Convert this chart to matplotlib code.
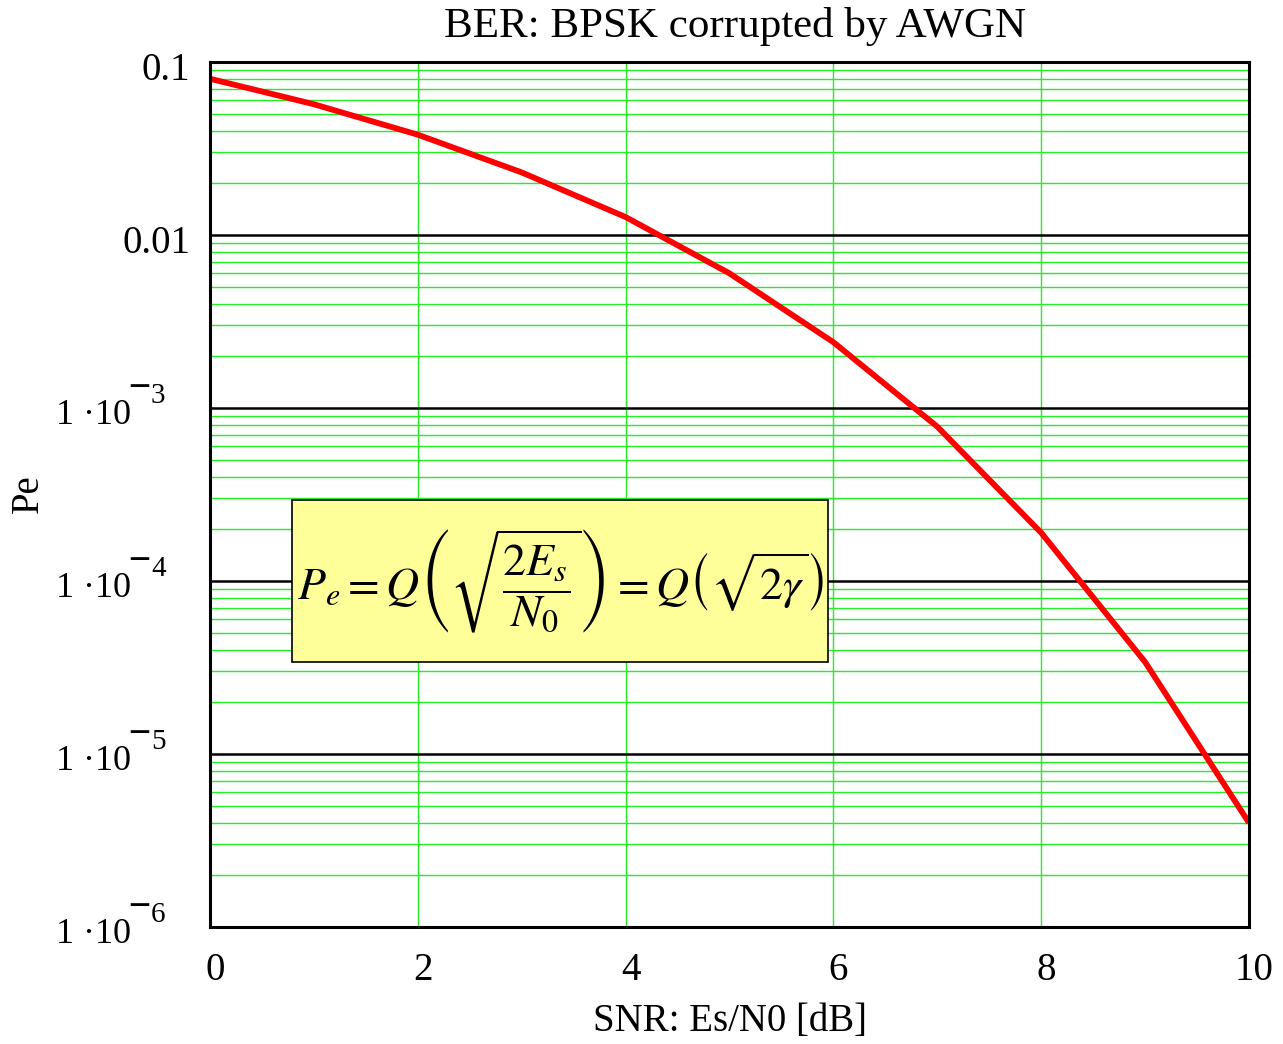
import numpy as np
import matplotlib
matplotlib.use("Agg")
import matplotlib.pyplot as plt
from matplotlib.path import Path
from matplotlib.ticker import LogLocator, NullFormatter
from matplotlib.transforms import blended_transform_factory, offset_copy, ScaledTranslation

plt.rcParams['font.family'] = ['Liberation Serif', 'DejaVu Serif']
plt.rcParams['mathtext.fontset'] = 'stix'

# Data
snr_db = [0, 1, 2, 3, 4, 5, 6, 7, 8, 9, 10]
pe = [0.080, 0.057, 0.038, 0.023, 0.0127, 0.0060, 0.0024, 0.00078, 0.00019, 3.4e-5, 4.0e-6]

x_ticks = [0, 2, 4, 6, 8, 10]
y_decades = [1e-6, 1e-5, 1e-4, 1e-3, 1e-2, 1e-1]
y_plain = {1e-1: '0.1', 1e-2: '0.01'}
y_exp = {1e-3: '3', 1e-4: '4', 1e-5: '5', 1e-6: '6'}

fig = plt.figure(figsize=(12.83, 10.44), dpi=100)
ax = fig.add_axes([0.1637, 0.1121, 0.8098, 0.8285])

ax.set_yscale('log')
ax.set_xlim(0, 10)
ax.set_ylim(1e-6, 0.1)

# grid
green = '#22ee22'
ax.yaxis.set_minor_locator(LogLocator(base=10, subs=np.arange(2, 10)))
ax.yaxis.set_minor_formatter(NullFormatter())
ax.grid(True, which='minor', axis='y', color=green, lw=1.0)
for xv in x_ticks:
    ax.axvline(xv, color=green, lw=1.0, zorder=1)
for yv in y_decades:
    ax.axhline(yv, color='black', lw=1.8, zorder=2)

ax.plot(snr_db, pe, color='#ff0000', lw=4.2, zorder=4, solid_capstyle='butt')

# axis frame
for s in ax.spines.values():
    s.set_linewidth(2.2)
    s.set_color('black')
    s.set_zorder(5)

ax.tick_params(which='both', length=0)
ax.set_xticks(x_ticks)
ax.set_xticklabels([str(v) for v in x_ticks], fontsize=28)
ax.tick_params(axis='x', pad=18)
for lab in ax.get_xticklabels():
    lab.set_transform(lab.get_transform() + ScaledTranslation(5 / 100, 0, fig.dpi_scale_trans))
ax.set_yticks(y_decades)
ax.set_yticklabels([''] * len(y_decades))

# y tick labels in "1·10^-n" style
tr = blended_transform_factory(ax.transAxes, ax.transData)
for v, lab in y_plain.items():
    ax.text(0, v, lab, transform=offset_copy(tr, fig, x=-20, y=-8, units='dots'),
            ha='right', va='center', fontsize=28, clip_on=False)
for v, ex in y_exp.items():
    ax.text(0, v, '1 \u00b710', transform=offset_copy(tr, fig, x=-79, y=-8, units='dots'),
            ha='right', va='center', fontsize=26, clip_on=False)
    ax.text(0, v, ex, transform=offset_copy(tr, fig, x=-59, y=12, units='dots'),
            ha='left', va='center', fontsize=21, clip_on=False)
    ax.text(0, v, '\u2013', transform=offset_copy(tr, fig, x=-71, y=22, units='dots'),
            ha='center', va='center', fontsize=26, fontweight='bold', clip_on=False)

ax.set_title('BER: BPSK corrupted by AWGN', fontsize=31, pad=18, x=0.505)
ax.set_xlabel('SNR: Es/N0 [dB]', fontsize=28, labelpad=10)
fig.text(28 / 1283, 1 - 494 / 1044, 'Pe', rotation=90, ha='center', va='center', fontsize=28)


def formula_box(x0, y0, width, height, mutation_size):
    # plain rectangle, wider padding on top and bottom than on the sides
    px, py = 0.1 * mutation_size, 0.58 * mutation_size
    x0, y0 = x0 - px, y0 - py
    x1, y1 = x0 + width + 2 * px, y0 + height + 2 * py
    return Path([(x0, y0), (x1, y0), (x1, y1), (x0, y1), (x0, y0)], closed=True)


ax.text(3.37, 1e-4, r'$P_e = Q\left(\sqrt{\dfrac{2E_s}{N_0}}\right) = Q\left(\sqrt{2\gamma}\right)$',
        fontsize=33, ha='center', va='center', zorder=6,
        bbox=dict(boxstyle=formula_box, facecolor='#ffff99', edgecolor='black', lw=1.2))

fig.savefig('out.png', dpi=100)
